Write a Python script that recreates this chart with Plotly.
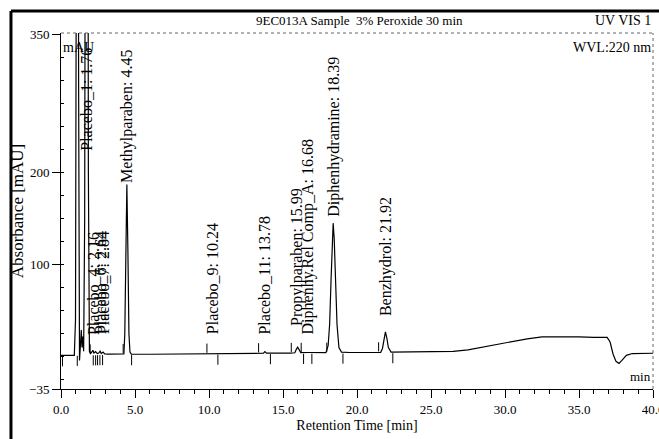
import numpy as np
import plotly.graph_objects as go

# Chromatogram trace: retention time (min) vs absorbance (mAU)
time_min = [0.0, 0.9, 0.98, 1.04, 1.12, 1.19, 1.25, 1.31, 1.37, 1.42, 1.47, 1.53,
            1.6, 1.68, 1.76, 1.85, 1.92, 2.0, 2.1, 2.16, 2.22, 2.34, 2.45, 2.55,
            2.64, 2.72, 2.84, 2.95, 3.2, 4.0, 4.25, 4.31, 4.38, 4.45, 4.52, 4.59,
            4.66, 4.75, 6.0, 8.0, 10.24, 12.0, 13.68, 13.78, 13.88, 15.5, 15.8,
            15.9, 15.99, 16.08, 16.2, 16.68, 17.9, 18.05, 18.15, 18.25, 18.32,
            18.39, 18.46, 18.55, 18.65, 18.78, 18.95, 19.5, 21.6, 21.72, 21.82,
            21.92, 22.02, 22.12, 22.3, 24.0, 26.5, 27.5, 28.5, 29.5, 30.5, 31.5,
            32.5, 33.5, 35.0, 36.0, 36.9, 37.1, 37.3, 37.5, 37.7, 37.9, 38.2,
            38.6, 39.2, 40.0]
absorbance = [1.5, 1.5, 40, 500, 1100, 300, -4, 12, 29, 10, 22, 6,
              150, 900, 1300, 200, 6, 3.5, 5, 7, 4, 5.5, 3.5, 4,
              6, 3.5, 5, 3, 2.8, 2.6, 3, 25, 115, 187, 115, 25,
              5, 2.8, 2.7, 3.0, 3.3, 3.6, 3.8, 5.5, 3.9, 4.0, 4.3,
              8, 10.5, 8, 4.5, 4.6, 4.5, 12, 35, 85, 125,
              145, 128, 80, 35, 10, 5, 4.6, 4.8, 9, 19,
              27, 20, 10, 5, 5.0, 5.8, 7.5, 10.5, 13.5, 16.5, 19.5,
              21.5, 21.8, 21.5, 21, 21, 16, 3, -5, -7.3, -4, 1.5,
              3.5, 3.8, 3.8]

# Peak labels: text, retention time, absorbance where the label starts
peak_names = ["Placebo_1: 1.76", "Placebo_4: 2.16", "Placebo_6: 2.64", "Placebo_7: 2.84",
              "Methylparaben: 4.45", "Placebo_9: 10.24", "Placebo_11: 13.78",
              "Propylparaben: 15.99", "Diphenhy.Rel Comp_A: 16.68",
              "Diphenhydramine: 18.39", "Benzhydrol: 21.92"]
peak_times = [1.76, 2.16, 2.64, 2.84, 4.45, 10.24, 13.78, 15.99, 16.68, 18.39, 21.92]
label_base = [222, 23, 23, 23, 188, 23.5, 23.5, 32, 23.5, 151, 43]

# Peak delimiter marks (start marks above, end marks below the baseline)
delim_start = [1.97, 4.2, 9.86, 13.35, 15.56, 16.23, 17.96, 21.46]
delim_end = [0.1, 1.1, 2.18, 2.34, 2.47, 2.63, 2.81, 4.77, 10.6, 14.15,
             16.39, 16.95, 19.05, 22.42]

x_ticks = [0, 5, 10, 15, 20, 25, 30, 35, 40]
y_ticks = [-35, 100, 200, 350]

SERIF = "Liberation Serif, Times New Roman, serif"

fig = go.Figure()
fig.add_trace(go.Scatter(x=time_min, y=absorbance, mode="lines",
                         line=dict(color="black", width=1.2), hoverinfo="skip"))

# baseline level used to place the delimiter marks
base_t = [0, 3, 6, 10, 15, 20, 25]
base_v = [1.5, 3, 2.7, 3.3, 4.0, 4.6, 5.2]
dx, dy = [], []
for t in delim_start:
    b = float(np.interp(t, base_t, base_v))
    dx += [t, t, None]
    dy += [b + 1, b + 11, None]
for t in delim_end:
    b = float(np.interp(t, base_t, base_v))
    dx += [t, t, None]
    dy += [b - 1, b - 12, None]
fig.add_trace(go.Scatter(x=dx, y=dy, mode="lines",
                         line=dict(color="black", width=1), hoverinfo="skip"))

for name, t, yb in zip(peak_names, peak_times, label_base):
    fig.add_annotation(x=t, y=yb, xref="x", yref="y", text=name, textangle=-90,
                       showarrow=False, xanchor="center", yanchor="bottom",
                       font=dict(family=SERIF, size=16, color="black"),
                       borderpad=0)

# text around the plot
fig.add_annotation(x=0.5, y=1.035, xref="paper", yref="paper",
                   text="9EC013A Sample  3% Peroxide 30 min", showarrow=False,
                   xanchor="center", yanchor="middle", xshift=2,
                   font=dict(family=SERIF, size=13, color="black"))
fig.add_annotation(x=1.0, y=1.035, xref="paper", yref="paper", text="UV VIS 1",
                   showarrow=False, xanchor="right", yanchor="middle",
                   font=dict(family=SERIF, size=14, color="black"))
fig.add_annotation(x=1.0, y=0.96, xref="paper", yref="paper", text="WVL:220 nm",
                   showarrow=False, xanchor="right", yanchor="middle",
                   font=dict(family=SERIF, size=14, color="black"))
fig.add_annotation(x=0.0, y=0.96, xref="paper", yref="paper", text="mAU",
                   showarrow=False, xanchor="left", yanchor="middle",
                   font=dict(family=SERIF, size=14, color="black"))
fig.add_annotation(x=1.0, y=0.036, xref="paper", yref="paper", text="min",
                   showarrow=False, xanchor="right", yanchor="middle",
                   font=dict(family=SERIF, size=13, color="black"))

# plot box top/right edges and the outer page frame
fig.add_shape(type="line", xref="paper", yref="paper", x0=0, x1=1, y0=1, y1=1,
              line=dict(color="#666", width=1, dash="dot"))
fig.add_shape(type="line", xref="paper", yref="paper", x0=1, x1=1, y0=0, y1=1,
              line=dict(color="#666", width=1, dash="dot"))
fig.add_shape(type="line", xref="paper", yref="paper", x0=-0.0845, x1=-0.0845,
              y0=-0.2, y1=1.062, line=dict(color="black", width=3))
fig.add_shape(type="line", xref="paper", yref="paper", x0=-0.0845, x1=1.2,
              y0=1.062, y1=1.062, line=dict(color="black", width=3))

fig.update_layout(
    width=659, height=439,
    margin=dict(l=61, r=6, t=33, b=50),
    paper_bgcolor="white", plot_bgcolor="white",
    showlegend=False,
    font=dict(family=SERIF, color="black"),
    xaxis=dict(range=[0, 40], tickvals=x_ticks,
               ticktext=[f"{v:.1f}" for v in x_ticks],
               ticks="outside", ticklen=8, tickcolor="black",
               ticklabeloverflow="allow", automargin=False,
               showline=True, linecolor="black", linewidth=1,
               showgrid=False, zeroline=False,
               tickfont=dict(family=SERIF, size=13),
               minor=dict(tickvals=list(range(0, 41)), ticks="outside",
                          ticklen=4, tickcolor="black"),
               title=dict(text="Retention Time [min]", standoff=4,
                          font=dict(family=SERIF, size=14))),
    yaxis=dict(range=[-35, 351.4], tickvals=y_ticks,
               ticks="outside", ticklen=8, tickcolor="black",
               showline=True, linecolor="black", linewidth=1,
               showgrid=False, zeroline=False,
               tickfont=dict(family=SERIF, size=13),
               minor=dict(tickvals=list(range(-25, 350, 25)), ticks="inside",
                          ticklen=3, tickcolor="black"),
               title=dict(text="Absorbance [mAU]", standoff=1,
                          font=dict(family=SERIF, size=17))),
)

fig.write_html("out.html")
